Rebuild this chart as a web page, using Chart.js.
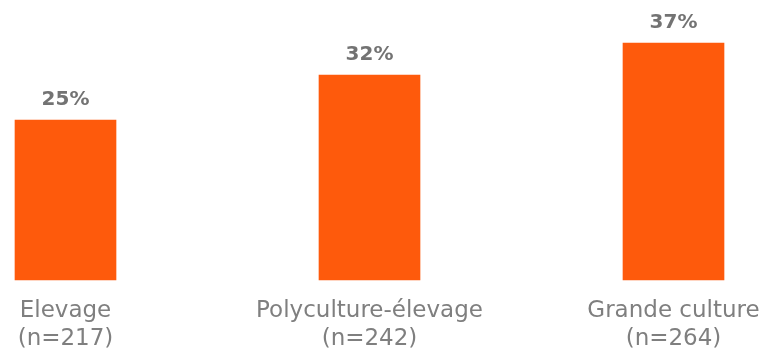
<!DOCTYPE html>
<html><head><meta charset="utf-8">
<script src="https://cdn.jsdelivr.net/npm/chart.js@4/dist/chart.umd.min.js"></script>
<style>html,body{margin:0;padding:0;background:#fff}#wrap{width:766px;height:350px}</style>
</head><body><div id="wrap"><canvas id="c"></canvas></div>
<script>
const categories = [['Elevage','(n=217)'],['Polyculture-élevage','(n=242)'],['Grande culture','(n=264)']];
const values = [25, 32, 37];
const valueLabels = ['25%','32%','37%'];

const labelPlugin = {
  id:'vlabels',
  afterDatasetsDraw(chart){
    const ctx = chart.ctx;
    const meta = chart.getDatasetMeta(0);
    ctx.save();
    ctx.font = 'bold 20px "DejaVu Sans"';
    ctx.fillStyle = '#737373';
    ctx.textAlign = 'center';
    ctx.textBaseline = 'alphabetic';
    meta.data.forEach((el,i)=>{ ctx.fillText(valueLabels[i], el.x, el.y - 15); });
    ctx.restore();
  }
};

new Chart(document.getElementById('c'), {
  type:'bar',
  data:{labels:categories, datasets:[{data:values, backgroundColor:'#FE5A0C', barThickness:101, clip:false}]},
  options:{
    responsive:true, maintainAspectRatio:false, animation:false,
    layout:{autoPadding:false, padding:{left:65.5, right:92.5, top:24, bottom:-20}},
    plugins:{legend:{display:false}, tooltip:{enabled:false}},
    scales:{
      x:{offset:false, grid:{display:false, drawTicks:false}, border:{display:false},
         afterFit(s){ s.paddingLeft = 0; s.paddingRight = 0; },
         ticks:{color:'#7f7f7f', font:{family:'"DejaVu Sans"', size:23, lineHeight:'28px'}, padding:17, maxRotation:0, autoSkip:false}},
      y:{display:false, min:0, max:40}
    }
  },
  plugins:[labelPlugin]
});
</script></body></html>
